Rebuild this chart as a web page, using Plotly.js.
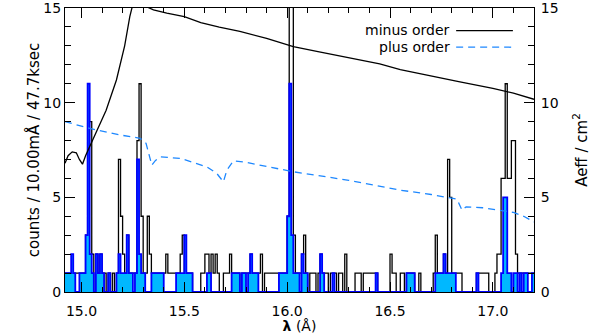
<!DOCTYPE html>
<html><head><meta charset="utf-8">
<script src="https://cdn.plot.ly/plotly-3.0.1.min.js"></script>
<style>html,body{margin:0;padding:0;background:#fff}#chart{width:600px;height:334px}</style>
</head><body><div id="chart"></div>
<script>
// Histogram binning (10 mA bins)
const binStart = 14.92;
const binWidth = 0.01;

// minus order counts per bin (black outline)
const minusCounts = [
  1,1,1,1,1,1,1,1,1,1,
  3,9,9,2,0,2,1,2,1,1,
  0,1,0,1,0,1,7,4,2,1,
  3,1,1,1,1,8,11,4,1,1,
  4,2,1,1,1,1,1,1,1,2,
  1,1,1,1,1,1,2,3,1,1,
  1,1,0,0,0,0,1,1,2,2,
  1,2,1,2,1,0,0,1,1,1,
  2,1,1,1,1,0,1,1,1,1,
  2,1,1,1,1,2,0,1,1,1,
  1,1,1,1,1,1,1,1,4,20,
  17,3,1,1,1,2,3,1,0,1,
  1,1,0,1,2,1,1,1,0,1,
  1,1,0,1,1,0,2,0,0,0,
  0,1,1,1,0,1,1,1,1,1,
  1,1,0,0,0,0,0,0,2,1,
  1,0,0,1,1,0,1,1,1,1,
  0,0,1,0,0,0,0,0,0,1,
  3,1,1,1,2,1,7,5,1,1,
  1,1,1,0,0,0,0,0,0,0,
  1,1,1,1,1,1,0,0,0,1,
  2,2,6,6,11,6,6,8,8,2,
  1,1,1,1,1,1,1,1
];

// plus order counts per bin (blue filled)
const plusCounts = [
  1,1,1,2,1,0,0,1,1,1,
  3,11,2,1,0,2,1,2,1,0,
  0,1,0,0,0,1,2,1,1,1,
  3,1,1,0,1,7,2,1,1,0,
  0,0,1,1,1,1,1,1,0,0,
  0,0,0,0,1,1,1,1,3,1,
  1,1,0,0,0,0,0,0,0,1,
  1,0,0,0,0,0,0,0,0,0,
  0,1,1,1,1,0,1,1,0,1,
  2,1,1,1,0,0,0,0,0,0,
  0,0,0,0,1,1,1,1,4,11,
  3,1,1,1,0,2,1,1,0,0,
  0,0,0,0,2,1,0,0,0,0,
  1,0,0,0,0,0,0,0,0,0,
  0,0,0,0,0,0,0,0,0,0,
  0,1,0,0,0,0,0,0,0,0,
  0,0,0,0,0,0,1,1,1,1,
  0,0,0,0,0,0,0,0,0,0,
  1,1,1,1,2,1,1,1,1,1,
  0,0,0,0,0,0,0,0,0,0,
  1,0,0,0,0,0,0,0,0,0,
  0,0,1,5,5,1,1,0,1,1,
  0,1,0,1,1,0,0,1
];

// Effective area curves (right axis)
const minusAeffWave = [14.92,14.935,14.955,14.975,14.99,15.005,15.02,15.04,15.07,15.12,15.17,15.21,15.235,15.25,15.28,15.32,15.35,15.415,15.50,15.58,15.67,15.77,15.90,16.03,16.15,16.31,16.45,16.55,16.70,16.84,17.00,17.10,17.20];
const minusAeff     = [6.8,7.2,7.4,7.35,7.0,6.75,7.2,7.67,8.38,9.6,11.2,13.0,14.55,15.2,15.6,15.05,14.9,14.73,14.55,14.23,13.99,13.76,13.4,12.96,12.7,12.35,12.05,11.75,11.4,11.1,10.75,10.5,10.18];
const plusAeffWave  = [14.92,15.04,15.19,15.285,15.314,15.342,15.36,15.382,15.48,15.61,15.658,15.69,15.707,15.739,15.80,16.03,16.30,16.55,16.70,16.826,16.85,16.87,16.95,17.10,17.15,17.20];
const plusAeff      = [9.0,8.64,8.29,8.12,7.85,6.7,6.95,7.14,7.06,6.61,6.26,5.82,6.44,6.93,6.85,6.35,5.9,5.38,5.15,4.9,4.32,4.5,4.45,4.2,4.0,3.7];

const countTicks = [0, 5, 10, 15];
const legendLabels = ['minus order', 'plus order'];

const edges = [];
for (let i = 0; i <= minusCounts.length; i++) edges.push(+(binStart + i * binWidth).toFixed(3));
const stepY = a => a.concat([a[a.length - 1]]);

const traces = [
  {x: edges, y: stepY(minusCounts), mode: 'lines', line: {shape: 'hv', color: '#000', width: 1.3}, hoverinfo: 'skip'},
  {x: edges, y: stepY(plusCounts), mode: 'lines', line: {shape: 'hv', color: '#0000ff', width: 1.8},
   fill: 'tozeroy', fillcolor: '#00b8ff', hoverinfo: 'skip'},
  {x: minusAeffWave, y: minusAeff, yaxis: 'y2', mode: 'lines', line: {color: '#000', width: 1.3}},
  {x: plusAeffWave, y: plusAeff, yaxis: 'y2', mode: 'lines', line: {color: '#1e88ff', width: 1.3, dash: '7px,5px'}}
];

const ax = {
  ticks: 'inside', ticklen: 10, tickwidth: 1, tickcolor: '#000',
  showline: true, linecolor: '#000', linewidth: 1, showgrid: false, zeroline: false,
  ticklabeloverflow: 'allow'
};

const layout = {
  width: 600, height: 334,
  margin: {l: 65, r: 66, t: 8, b: 42},
  showlegend: false,
  paper_bgcolor: '#fff', plot_bgcolor: '#fff',
  font: {family: 'DejaVu Sans', size: 14, color: '#000'},
  xaxis: Object.assign({}, ax, {
    range: [14.92, 17.2], tick0: 15, dtick: 0.5, tickformat: '.1f', mirror: 'ticks',
    ticklabelstandoff: 6,
    minor: {dtick: 0.1, ticklen: 5, ticks: 'inside', tickcolor: '#000'},
    title: {text: '<b>λ</b> (Å)', standoff: 3, font: {size: 14}}
  }),
  yaxis: Object.assign({}, ax, {
    range: [0, 15], tickmode: 'array', tickvals: countTicks, ticktext: countTicks.map(String),
    minor: {dtick: 1, ticklen: 6, ticks: 'inside', tickcolor: '#000'},
    title: {text: 'counts / 10.00mÅ / 47.7ksec', standoff: 0, font: {size: 15}}
  }),
  yaxis2: Object.assign({}, ax, {
    overlaying: 'y', side: 'right', range: [0, 15],
    tickmode: 'array', tickvals: countTicks, ticktext: countTicks.map(String),
    ticklabelstandoff: 3,
    minor: {dtick: 1, ticklen: 6, ticks: 'inside', tickcolor: '#000'},
    title: {text: 'Aeff / cm<sup>2</sup>', standoff: 18, font: {size: 15}}
  }),
  annotations: [
    {xref: 'paper', yref: 'paper', x: 0.823, y: 0.922, xanchor: 'right', yanchor: 'middle', borderpad: 0,
     text: legendLabels[0], showarrow: false, font: {size: 14}},
    {xref: 'paper', yref: 'paper', x: 0.823, y: 0.862, xanchor: 'right', yanchor: 'middle', borderpad: 0,
     text: legendLabels[1], showarrow: false, font: {size: 14}}
  ],
  shapes: [
    {type: 'line', xref: 'paper', yref: 'paper', x0: 0.834, x1: 0.955, y0: 0.92, y1: 0.92, line: {color: '#000', width: 1.3}},
    {type: 'line', xref: 'paper', yref: 'paper', x0: 0.834, x1: 0.955, y0: 0.862, y1: 0.862, line: {color: '#1e88ff', width: 1.3, dash: '7px,5px'}}
  ]
};

Plotly.newPlot('chart', traces, layout, {staticPlot: true, displayModeBar: false});
</script></body></html>
